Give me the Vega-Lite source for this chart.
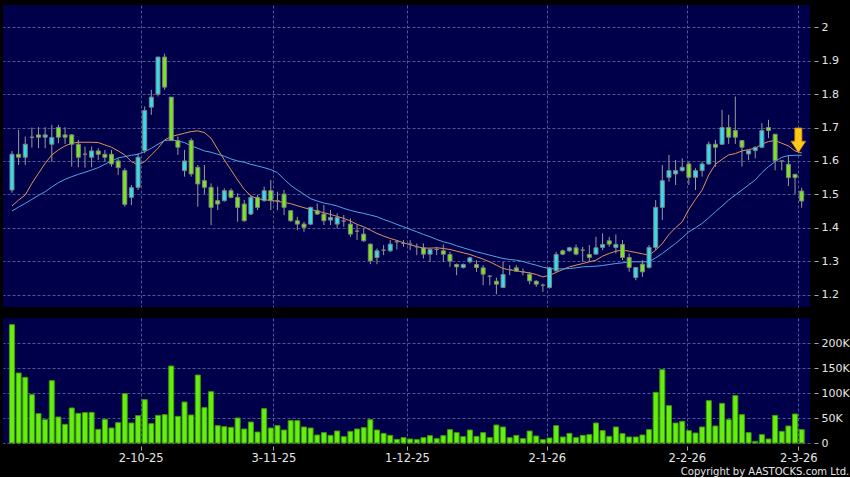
{
  "$schema": "https://vega.github.io/schema/vega-lite/v6.json",
  "background": "#000000",
  "padding": {"left": 3, "top": 5, "right": 3, "bottom": 0},
  "spacing": 11,
  "title": {"text": "Copyright by AASTOCKS.com Ltd.", "orient": "bottom", "anchor": "end", "frame": "bounds", "fontSize": 10, "fontWeight": "normal", "color": "#e6e6e6", "font": "DejaVu Sans", "offset": 3},
  "config": {
    "view": {"stroke": null, "fill": "#00004a"},
    "font": "DejaVu Sans",
    "axis": {"domain": false, "title": null, "gridColor": "#4b5a94", "gridDash": [3, 2], "gridWidth": 1, "tickColor": "#aaaaaa", "labelColor": "#e6e6e6", "labelFont": "DejaVu Sans", "labelFontSize": 11, "labelOverlap": false, "labelFlush": false}
  },
  "data": {"values": [
{"i":0,"o":1.513,"h":1.63,"l":1.505,"c":1.62,"v":236700,"ma10":1.465,"ma20":1.45},
{"i":1,"o":1.62,"h":1.693,"l":1.588,"c":1.611,"v":140000,"ma10":1.483,"ma20":1.462},
{"i":2,"o":1.611,"h":1.673,"l":1.588,"c":1.65,"v":131300,"ma10":1.498,"ma20":1.473},
{"i":3,"o":1.671,"h":1.7,"l":1.64,"c":1.671,"v":96700,"ma10":1.533,"ma20":1.485},
{"i":4,"o":1.678,"h":1.701,"l":1.638,"c":1.671,"v":58700,"ma10":1.563,"ma20":1.497},
{"i":5,"o":1.671,"h":1.701,"l":1.638,"c":1.678,"v":46700,"ma10":1.593,"ma20":1.508},
{"i":6,"o":1.65,"h":1.708,"l":1.598,"c":1.67,"v":124700,"ma10":1.618,"ma20":1.522},
{"i":7,"o":1.7,"h":1.708,"l":1.653,"c":1.671,"v":52000,"ma10":1.633,"ma20":1.535},
{"i":8,"o":1.678,"h":1.701,"l":1.651,"c":1.671,"v":37300,"ma10":1.645,"ma20":1.545},
{"i":9,"o":1.678,"h":1.68,"l":1.583,"c":1.65,"v":70000,"ma10":1.653,"ma20":1.553},
{"i":10,"o":1.65,"h":1.663,"l":1.581,"c":1.611,"v":59300,"ma10":1.656,"ma20":1.56},
{"i":11,"o":1.62,"h":1.643,"l":1.58,"c":1.62,"v":60700,"ma10":1.656,"ma20":1.566},
{"i":12,"o":1.611,"h":1.643,"l":1.581,"c":1.63,"v":61300,"ma10":1.656,"ma20":1.573},
{"i":13,"o":1.63,"h":1.638,"l":1.603,"c":1.62,"v":27300,"ma10":1.655,"ma20":1.58},
{"i":14,"o":1.62,"h":1.633,"l":1.598,"c":1.611,"v":47300,"ma10":1.648,"ma20":1.59},
{"i":15,"o":1.62,"h":1.633,"l":1.583,"c":1.591,"v":30000,"ma10":1.641,"ma20":1.6},
{"i":16,"o":1.6,"h":1.608,"l":1.558,"c":1.58,"v":40700,"ma10":1.63,"ma20":1.609},
{"i":17,"o":1.571,"h":1.578,"l":1.463,"c":1.47,"v":98700,"ma10":1.618,"ma20":1.613},
{"i":18,"o":1.491,"h":1.528,"l":1.468,"c":1.52,"v":40000,"ma10":1.598,"ma20":1.617},
{"i":19,"o":1.521,"h":1.623,"l":1.513,"c":1.611,"v":54700,"ma10":1.588,"ma20":1.62},
{"i":20,"o":1.631,"h":1.763,"l":1.623,"c":1.751,"v":86700,"ma10":1.598,"ma20":1.628},
{"i":21,"o":1.761,"h":1.813,"l":1.738,"c":1.791,"v":38700,"ma10":1.618,"ma20":1.638},
{"i":22,"o":1.8,"h":1.911,"l":1.793,"c":1.911,"v":55300,"ma10":1.638,"ma20":1.65},
{"i":23,"o":1.911,"h":1.921,"l":1.813,"c":1.821,"v":56700,"ma10":1.663,"ma20":1.661},
{"i":24,"o":1.791,"h":1.791,"l":1.661,"c":1.661,"v":154000,"ma10":1.673,"ma20":1.663},
{"i":25,"o":1.661,"h":1.673,"l":1.618,"c":1.641,"v":53300,"ma10":1.678,"ma20":1.66},
{"i":26,"o":1.571,"h":1.633,"l":1.553,"c":1.6,"v":82000,"ma10":1.683,"ma20":1.655},
{"i":27,"o":1.661,"h":1.668,"l":1.553,"c":1.561,"v":56000,"ma10":1.688,"ma20":1.645},
{"i":28,"o":1.581,"h":1.588,"l":1.463,"c":1.531,"v":136000,"ma10":1.69,"ma20":1.638},
{"i":29,"o":1.541,"h":1.588,"l":1.501,"c":1.521,"v":70700,"ma10":1.685,"ma20":1.63},
{"i":30,"o":1.521,"h":1.533,"l":1.408,"c":1.461,"v":102700,"ma10":1.668,"ma20":1.626},
{"i":31,"o":1.481,"h":1.523,"l":1.453,"c":1.471,"v":34700,"ma10":1.635,"ma20":1.62},
{"i":32,"o":1.481,"h":1.518,"l":1.478,"c":1.511,"v":32700,"ma10":1.603,"ma20":1.614},
{"i":33,"o":1.511,"h":1.518,"l":1.488,"c":1.491,"v":31300,"ma10":1.573,"ma20":1.606},
{"i":34,"o":1.491,"h":1.503,"l":1.418,"c":1.461,"v":50000,"ma10":1.543,"ma20":1.6},
{"i":35,"o":1.471,"h":1.483,"l":1.418,"c":1.421,"v":28000,"ma10":1.515,"ma20":1.596},
{"i":36,"o":1.441,"h":1.498,"l":1.438,"c":1.491,"v":42000,"ma10":1.495,"ma20":1.59},
{"i":37,"o":1.491,"h":1.498,"l":1.453,"c":1.461,"v":22000,"ma10":1.487,"ma20":1.585},
{"i":38,"o":1.481,"h":1.523,"l":1.478,"c":1.511,"v":68700,"ma10":1.484,"ma20":1.58},
{"i":39,"o":1.511,"h":1.543,"l":1.453,"c":1.481,"v":30000,"ma10":1.482,"ma20":1.574},
{"i":40,"o":1.481,"h":1.508,"l":1.453,"c":1.481,"v":34700,"ma10":1.479,"ma20":1.565},
{"i":41,"o":1.501,"h":1.513,"l":1.438,"c":1.461,"v":26000,"ma10":1.476,"ma20":1.545},
{"i":42,"o":1.451,"h":1.453,"l":1.418,"c":1.421,"v":44700,"ma10":1.472,"ma20":1.527},
{"i":43,"o":1.421,"h":1.433,"l":1.393,"c":1.411,"v":44700,"ma10":1.466,"ma20":1.513},
{"i":44,"o":1.411,"h":1.418,"l":1.388,"c":1.401,"v":32000,"ma10":1.46,"ma20":1.5},
{"i":45,"o":1.411,"h":1.463,"l":1.408,"c":1.461,"v":30000,"ma10":1.455,"ma20":1.487},
{"i":46,"o":1.451,"h":1.473,"l":1.438,"c":1.441,"v":16000,"ma10":1.45,"ma20":1.48},
{"i":47,"o":1.441,"h":1.468,"l":1.408,"c":1.421,"v":20700,"ma10":1.445,"ma20":1.474},
{"i":48,"o":1.423,"h":1.453,"l":1.408,"c":1.431,"v":15300,"ma10":1.44,"ma20":1.47},
{"i":49,"o":1.411,"h":1.443,"l":1.398,"c":1.431,"v":24000,"ma10":1.434,"ma20":1.465},
{"i":50,"o":1.42,"h":1.438,"l":1.403,"c":1.42,"v":12700,"ma10":1.428,"ma20":1.458},
{"i":51,"o":1.411,"h":1.428,"l":1.373,"c":1.381,"v":23300,"ma10":1.42,"ma20":1.452},
{"i":52,"o":1.39,"h":1.408,"l":1.363,"c":1.39,"v":28000,"ma10":1.41,"ma20":1.447},
{"i":53,"o":1.381,"h":1.398,"l":1.358,"c":1.361,"v":30700,"ma10":1.403,"ma20":1.443},
{"i":54,"o":1.351,"h":1.353,"l":1.291,"c":1.301,"v":46700,"ma10":1.393,"ma20":1.438},
{"i":55,"o":1.311,"h":1.338,"l":1.291,"c":1.331,"v":26000,"ma10":1.383,"ma20":1.433},
{"i":56,"o":1.333,"h":1.348,"l":1.318,"c":1.333,"v":19300,"ma10":1.375,"ma20":1.425},
{"i":57,"o":1.331,"h":1.363,"l":1.328,"c":1.351,"v":15300,"ma10":1.368,"ma20":1.418},
{"i":58,"o":1.358,"h":1.363,"l":1.335,"c":1.358,"v":7300,"ma10":1.362,"ma20":1.41},
{"i":59,"o":1.353,"h":1.363,"l":1.343,"c":1.353,"v":10700,"ma10":1.355,"ma20":1.403},
{"i":60,"o":1.351,"h":1.363,"l":1.333,"c":1.351,"v":8000,"ma10":1.349,"ma20":1.395},
{"i":61,"o":1.343,"h":1.353,"l":1.318,"c":1.343,"v":6700,"ma10":1.344,"ma20":1.388},
{"i":62,"o":1.34,"h":1.353,"l":1.308,"c":1.321,"v":10700,"ma10":1.339,"ma20":1.38},
{"i":63,"o":1.321,"h":1.338,"l":1.298,"c":1.335,"v":14700,"ma10":1.339,"ma20":1.373},
{"i":64,"o":1.335,"h":1.343,"l":1.318,"c":1.335,"v":8700,"ma10":1.34,"ma20":1.365},
{"i":65,"o":1.331,"h":1.35,"l":1.298,"c":1.321,"v":14700,"ma10":1.338,"ma20":1.358},
{"i":66,"o":1.32,"h":1.328,"l":1.283,"c":1.3,"v":26700,"ma10":1.335,"ma20":1.353},
{"i":67,"o":1.29,"h":1.293,"l":1.258,"c":1.283,"v":20700,"ma10":1.33,"ma20":1.346},
{"i":68,"o":1.281,"h":1.293,"l":1.278,"c":1.29,"v":12700,"ma10":1.325,"ma20":1.34},
{"i":69,"o":1.298,"h":1.313,"l":1.293,"c":1.31,"v":26000,"ma10":1.32,"ma20":1.334},
{"i":70,"o":1.29,"h":1.303,"l":1.268,"c":1.281,"v":13300,"ma10":1.313,"ma20":1.328},
{"i":71,"o":1.28,"h":1.288,"l":1.228,"c":1.261,"v":20700,"ma10":1.306,"ma20":1.323},
{"i":72,"o":1.255,"h":1.258,"l":1.228,"c":1.255,"v":10700,"ma10":1.298,"ma20":1.318},
{"i":73,"o":1.24,"h":1.251,"l":1.201,"c":1.231,"v":36000,"ma10":1.288,"ma20":1.313},
{"i":74,"o":1.221,"h":1.298,"l":1.221,"c":1.26,"v":32000,"ma10":1.278,"ma20":1.308},
{"i":75,"o":1.275,"h":1.288,"l":1.258,"c":1.275,"v":10700,"ma10":1.274,"ma20":1.305},
{"i":76,"o":1.28,"h":1.288,"l":1.268,"c":1.27,"v":15300,"ma10":1.271,"ma20":1.303},
{"i":77,"o":1.268,"h":1.278,"l":1.258,"c":1.268,"v":8700,"ma10":1.268,"ma20":1.299},
{"i":78,"o":1.261,"h":1.268,"l":1.231,"c":1.241,"v":24000,"ma10":1.265,"ma20":1.293},
{"i":79,"o":1.24,"h":1.243,"l":1.223,"c":1.231,"v":14000,"ma10":1.26,"ma20":1.288},
{"i":80,"o":1.228,"h":1.233,"l":1.208,"c":1.228,"v":6700,"ma10":1.253,"ma20":1.282},
{"i":81,"o":1.221,"h":1.283,"l":1.218,"c":1.28,"v":10000,"ma10":1.258,"ma20":1.278},
{"i":82,"o":1.271,"h":1.328,"l":1.268,"c":1.32,"v":34700,"ma10":1.266,"ma20":1.277},
{"i":83,"o":1.331,"h":1.335,"l":1.318,"c":1.321,"v":12000,"ma10":1.275,"ma20":1.277},
{"i":84,"o":1.331,"h":1.343,"l":1.328,"c":1.34,"v":19300,"ma10":1.283,"ma20":1.278},
{"i":85,"o":1.34,"h":1.35,"l":1.318,"c":1.321,"v":10700,"ma10":1.288,"ma20":1.28},
{"i":86,"o":1.333,"h":1.343,"l":1.298,"c":1.333,"v":15300,"ma10":1.293,"ma20":1.283},
{"i":87,"o":1.32,"h":1.348,"l":1.298,"c":1.311,"v":16700,"ma10":1.298,"ma20":1.284},
{"i":88,"o":1.321,"h":1.373,"l":1.321,"c":1.34,"v":40000,"ma10":1.303,"ma20":1.285},
{"i":89,"o":1.341,"h":1.383,"l":1.333,"c":1.35,"v":24700,"ma10":1.315,"ma20":1.287},
{"i":90,"o":1.361,"h":1.373,"l":1.343,"c":1.351,"v":13300,"ma10":1.323,"ma20":1.29},
{"i":91,"o":1.341,"h":1.38,"l":1.323,"c":1.35,"v":32000,"ma10":1.33,"ma20":1.293},
{"i":92,"o":1.35,"h":1.363,"l":1.303,"c":1.311,"v":18700,"ma10":1.333,"ma20":1.295},
{"i":93,"o":1.311,"h":1.323,"l":1.268,"c":1.281,"v":12000,"ma10":1.33,"ma20":1.298},
{"i":94,"o":1.251,"h":1.283,"l":1.243,"c":1.281,"v":12000,"ma10":1.326,"ma20":1.298},
{"i":95,"o":1.291,"h":1.303,"l":1.253,"c":1.268,"v":16000,"ma10":1.322,"ma20":1.298},
{"i":96,"o":1.281,"h":1.348,"l":1.278,"c":1.341,"v":26700,"ma10":1.318,"ma20":1.298},
{"i":97,"o":1.341,"h":1.483,"l":1.333,"c":1.461,"v":101300,"ma10":1.333,"ma20":1.31},
{"i":98,"o":1.461,"h":1.588,"l":1.423,"c":1.541,"v":146700,"ma10":1.353,"ma20":1.323},
{"i":99,"o":1.551,"h":1.618,"l":1.538,"c":1.571,"v":74700,"ma10":1.38,"ma20":1.338},
{"i":100,"o":1.561,"h":1.603,"l":1.528,"c":1.571,"v":40000,"ma10":1.4,"ma20":1.353},
{"i":101,"o":1.571,"h":1.608,"l":1.568,"c":1.581,"v":43300,"ma10":1.418,"ma20":1.37},
{"i":102,"o":1.591,"h":1.598,"l":1.528,"c":1.551,"v":24700,"ma10":1.455,"ma20":1.388},
{"i":103,"o":1.551,"h":1.578,"l":1.513,"c":1.571,"v":20000,"ma10":1.485,"ma20":1.4},
{"i":104,"o":1.571,"h":1.598,"l":1.553,"c":1.591,"v":32000,"ma10":1.513,"ma20":1.413},
{"i":105,"o":1.591,"h":1.658,"l":1.588,"c":1.65,"v":84700,"ma10":1.558,"ma20":1.43},
{"i":106,"o":1.65,"h":1.663,"l":1.583,"c":1.641,"v":34000,"ma10":1.59,"ma20":1.448},
{"i":107,"o":1.65,"h":1.753,"l":1.648,"c":1.7,"v":79300,"ma10":1.605,"ma20":1.465},
{"i":108,"o":1.7,"h":1.738,"l":1.651,"c":1.671,"v":46700,"ma10":1.618,"ma20":1.483},
{"i":109,"o":1.691,"h":1.793,"l":1.651,"c":1.671,"v":94700,"ma10":1.622,"ma20":1.498},
{"i":110,"o":1.661,"h":1.663,"l":1.583,"c":1.641,"v":56700,"ma10":1.63,"ma20":1.513},
{"i":111,"o":1.621,"h":1.633,"l":1.603,"c":1.631,"v":20700,"ma10":1.634,"ma20":1.528},
{"i":112,"o":1.631,"h":1.643,"l":1.608,"c":1.641,"v":3300,"ma10":1.638,"ma20":1.543},
{"i":113,"o":1.641,"h":1.713,"l":1.638,"c":1.691,"v":16700,"ma10":1.65,"ma20":1.565},
{"i":114,"o":1.7,"h":1.723,"l":1.668,"c":1.691,"v":8000,"ma10":1.658,"ma20":1.583},
{"i":115,"o":1.68,"h":1.68,"l":1.572,"c":1.601,"v":55300,"ma10":1.661,"ma20":1.598},
{"i":116,"o":1.6,"h":1.6,"l":1.572,"c":1.6,"v":23300,"ma10":1.653,"ma20":1.611},
{"i":117,"o":1.59,"h":1.615,"l":1.525,"c":1.55,"v":34000,"ma10":1.645,"ma20":1.616},
{"i":118,"o":1.56,"h":1.56,"l":1.5,"c":1.55,"v":58000,"ma10":1.63,"ma20":1.617},
{"i":119,"o":1.51,"h":1.52,"l":1.46,"c":1.48,"v":26700,"ma10":1.624,"ma20":1.617}
  ]},
  "vconcat": [
    {
      "width": 807,
      "height": 302,
      "encoding": {
        "x": {"field": "i", "type": "quantitative", "scale": {"domain": [-0.6, 119.5], "nice": false, "zero": false},
              "axis": {"values": [19.4, 39.4, 59.5, 80.6, 101.7, 118.5], "labels": false, "ticks": false, "grid": true}}
      },
      "layer": [
        {
          "mark": {"type": "line", "color": "#e8905a", "strokeWidth": 1, "clip": true},
          "encoding": {
            "y": {"field": "ma10", "type": "quantitative", "scale": {"domain": [1.1628, 2.0668], "nice": false, "zero": false},
                  "axis": {"orient": "right", "values": [1.2, 1.3, 1.4, 1.5, 1.6, 1.7, 1.8, 1.9, 2.0], "format": ".1~f", "grid": true, "offset": 4, "tickSize": 4, "labelPadding": 3}}
          }
        },
        {
          "mark": {"type": "line", "color": "#4ea6e6", "strokeWidth": 1, "clip": true},
          "encoding": {"y": {"field": "ma20", "type": "quantitative",
                  "axis": {"orient": "right", "values": [1.2, 1.3, 1.4, 1.5, 1.6, 1.7, 1.8, 1.9, 2.0], "format": ".1~f", "grid": true, "offset": 4, "tickSize": 4, "labelPadding": 3}}}
        },
        {
          "mark": {"type": "rule", "color": "#9a9a9a", "strokeWidth": 1},
          "encoding": {"y": {"field": "l", "type": "quantitative",
                  "axis": {"orient": "right", "values": [1.2, 1.3, 1.4, 1.5, 1.6, 1.7, 1.8, 1.9, 2.0], "format": ".1~f", "grid": true, "offset": 4, "tickSize": 4, "labelPadding": 3}}, "y2": {"field": "h"}}
        },
        {
          "mark": {"type": "bar", "width": 4, "stroke": "#808080", "strokeWidth": 1},
          "encoding": {
            "y": {"field": "o", "type": "quantitative",
                  "axis": {"orient": "right", "values": [1.2, 1.3, 1.4, 1.5, 1.6, 1.7, 1.8, 1.9, 2.0], "format": ".1~f", "grid": true, "offset": 4, "tickSize": 4, "labelPadding": 3}},
            "y2": {"field": "c"},
            "fill": {"condition": [{"test": "datum.c > datum.o", "value": "#33ddee"}, {"test": "datum.c < datum.o", "value": "#7be524"}], "value": "#c8c8c8"}
          }
        },
        {
          "data": {"values": [{"i": 118.5, "p": 1.662}]},
          "mark": {"type": "point", "shape": "M-0.29,-1L0.29,-1L0.29,0.08L0.6,0.08L0,1L-0.6,0.08L-0.29,0.08Z", "size": 600, "filled": true, "fill": "#ffc81a", "stroke": "#d08a00", "strokeWidth": 0.8, "opacity": 1},
          "encoding": {"y": {"field": "p", "type": "quantitative",
                  "axis": {"orient": "right", "values": [1.2, 1.3, 1.4, 1.5, 1.6, 1.7, 1.8, 1.9, 2.0], "format": ".1~f", "grid": true, "offset": 4, "tickSize": 4, "labelPadding": 3}}}
        }
      ]
    },
    {
      "width": 807,
      "height": 125,
      "mark": {"type": "bar", "width": 5, "fill": "#66ee11", "stroke": "#3f9a08", "strokeWidth": 1},
      "encoding": {
        "x": {"field": "i", "type": "quantitative", "scale": {"domain": [-0.6, 119.5], "nice": false, "zero": false},
              "axis": {"values": [19.4, 39.4, 59.5, 80.6, 101.7, 118.5], "grid": true, "ticks": true, "tickSize": 4, "offset": 3, "labelPadding": 2, "labelFontSize": 11.5,
                       "labelExpr": "datum.value < 30 ? '2-10-25' : datum.value < 50 ? '3-11-25' : datum.value < 70 ? '1-12-25' : datum.value < 90 ? '2-1-26' : datum.value < 110 ? '2-2-26' : '2-3-26'"}},
        "y": {"field": "v", "type": "quantitative", "scale": {"domain": [0, 250000], "nice": false},
              "axis": {"orient": "right", "values": [0, 50000, 100000, 150000, 200000], "labelExpr": "datum.value == 0 ? '0' : (datum.value / 1000) + 'K'", "grid": true, "offset": 4, "tickSize": 4, "labelPadding": 3}}
      }
    }
  ]
}
